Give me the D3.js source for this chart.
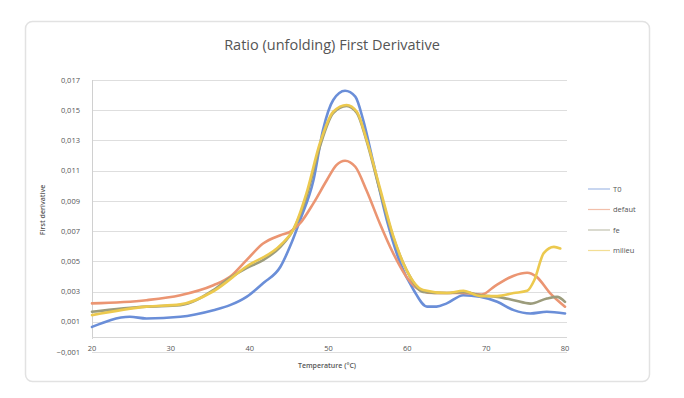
<!DOCTYPE html>
<html>
<head>
<meta charset="utf-8">
<script src="https://cdn.jsdelivr.net/npm/d3@7/dist/d3.min.js"></script>
<style>
  body { margin: 0; background: #fff; }
  svg { display: block; font-family: "Open Sans", "Noto Sans", sans-serif; }
</style>
</head>
<body>
<div id="chart"></div>
<script>
let w = 684;
let h = 398;

// data: temperature (°C) and first derivative
let seriesNames = ["T0", "defaut", "fe", "milieu"];
let seriesColors = ["#6a8ed8", "#eb9572", "#9c9c7c", "#ecc94e"];

let tempT0 = [20, 24.8, 26.9, 31.2, 35.4, 37.5, 39.6, 41.7, 43.9, 45.1, 46.4, 48.1, 49.3, 50.6, 52.1, 53.4, 54.4, 55.7, 57.4, 59.1, 60.8, 62.5, 63.7, 65, 67.1, 69.2, 71.4, 73.5, 75.6, 77.7, 80];
let valT0 = [0.00066, 0.00133, 0.00122, 0.00133, 0.00177, 0.0021, 0.00265, 0.00355, 0.00464, 0.00596, 0.00773, 0.01038, 0.01369, 0.01568, 0.01629, 0.0159, 0.01435, 0.0115, 0.00773, 0.00488, 0.0031, 0.0020, 0.0020, 0.00222, 0.00276, 0.00265, 0.00232, 0.00177, 0.00155, 0.00166, 0.00155];

let tempDefaut = [20, 26.9, 31.2, 35.4, 37.5, 39.6, 41.7, 43.9, 45.1, 46.4, 48.1, 49.8, 51.0, 52.1, 53.4, 54.8, 56.5, 58.2, 59.9, 61.6, 63.3, 67.1, 69.4, 71.2, 73.5, 75.2, 76.4, 78.1, 80];
let valDefaut = [0.00222, 0.00243, 0.00276, 0.00342, 0.00397, 0.00508, 0.00618, 0.00673, 0.00695, 0.00752, 0.00885, 0.01038, 0.01137, 0.01166, 0.01126, 0.00972, 0.00752, 0.00554, 0.00397, 0.0031, 0.0029, 0.0029, 0.0028, 0.0034, 0.00405, 0.00424, 0.00397, 0.0029, 0.0020];

let tempFe = [20, 26.9, 31.2, 35.4, 37.5, 39.6, 41.7, 43.9, 45.5, 47.2, 48.9, 50.6, 52.3, 53.6, 54.8, 56.5, 58.2, 59.9, 62.0, 65.0, 67.1, 69.2, 71.4, 73.5, 75.6, 77.7, 79.0, 80];
let valFe = [0.00166, 0.0020, 0.0021, 0.0031, 0.0039, 0.00455, 0.00508, 0.00596, 0.00707, 0.00927, 0.01258, 0.01481, 0.01528, 0.01481, 0.01303, 0.00972, 0.00662, 0.00442, 0.00298, 0.0029, 0.00298, 0.00276, 0.00265, 0.00243, 0.0022, 0.00254, 0.00265, 0.00232];

let tempMilieu = [20, 26.9, 31.2, 35.4, 39.6, 43.9, 45.5, 47.2, 48.9, 50.6, 52.3, 53.6, 54.8, 56.5, 58.2, 59.9, 62.0, 65.0, 67.1, 69.2, 71.4, 73.5, 75.2, 76.1, 77.3, 78.6, 79.4];
let valMilieu = [0.00144, 0.0020, 0.00215, 0.00302, 0.00466, 0.00607, 0.00707, 0.0095, 0.0128, 0.0149, 0.01535, 0.0149, 0.0131, 0.0099, 0.0067, 0.00442, 0.0031, 0.0029, 0.00305, 0.0027, 0.0027, 0.0029, 0.00305, 0.00375, 0.00554, 0.00596, 0.00585];

let xTicks = [20, 30, 40, 50, 60, 70, 80];
let yTicks = [-0.001, 0.001, 0.003, 0.005, 0.007, 0.009, 0.011, 0.013, 0.015, 0.017];

let series = [
  { name: seriesNames[0], color: seriesColors[0], temps: tempT0, vals: valT0 },
  { name: seriesNames[1], color: seriesColors[1], temps: tempDefaut, vals: valDefaut },
  { name: seriesNames[2], color: seriesColors[2], temps: tempFe, vals: valFe },
  { name: seriesNames[3], color: seriesColors[3], temps: tempMilieu, vals: valMilieu }
];

let svg = d3.select("#chart")
  .append("svg")
  .attr("width", w)
  .attr("height", h);

// card
svg.append("rect")
  .attr("x", 25.5)
  .attr("y", 21.5)
  .attr("width", 624)
  .attr("height", 360)
  .attr("rx", 7)
  .attr("fill", "#fff")
  .attr("stroke", "#e2e2e2")
  .attr("stroke-width", 1.5);

let x = d3.scaleLinear().domain([20, 80]).range([92, 565]);
let y = d3.scaleLinear().domain([-0.001, 0.017]).range([352, 80]);

const fmt = d => d3.format(".3f")(d).replace(".", ",");

// gridlines
svg.append("g")
  .selectAll("line")
  .data(yTicks)
  .join("line")
  .attr("x1", x(20))
  .attr("x2", x(80) + 2)
  .attr("y1", d => Math.round(y(d)) + 0.5)
  .attr("y2", d => Math.round(y(d)) + 0.5)
  .attr("stroke", "#dedede")
  .attr("stroke-width", 1);

// y labels
svg.append("g")
  .attr("text-anchor", "end")
  .selectAll("text")
  .data(yTicks)
  .join("text")
  .attr("x", 80)
  .attr("y", d => y(d))
  .attr("dy", "0.35em")
  .attr("font-size", 7.5)
  .attr("fill", "#555")
  .text(fmt);

// axis lines: vertical at 20, horizontal crossing at 0
svg.append("line")
  .attr("x1", x(20) + 0.5).attr("x2", x(20) + 0.5)
  .attr("y1", y(0.017)).attr("y2", y(0) + 2)
  .attr("stroke", "#d0d0d0");
svg.append("line")
  .attr("x1", x(20)).attr("x2", x(80) + 2)
  .attr("y1", Math.round(y(0)) + 0.5).attr("y2", Math.round(y(0)) + 0.5)
  .attr("stroke", "#d6d6d6");

// x labels
svg.append("g")
  .attr("text-anchor", "middle")
  .selectAll("text")
  .data(xTicks)
  .join("text")
  .attr("x", d => x(d))
  .attr("y", 351)
  .attr("font-size", 7.5)
  .attr("fill", "#555")
  .text(d => d);

// lines
let line = d3.line()
  .x(d => x(d[0]))
  .y(d => y(d[1]))
  .curve(d3.curveMonotoneX);

svg.append("g")
  .selectAll("path")
  .data(series)
  .join("path")
  .attr("d", s => line(d3.zip(s.temps, s.vals)))
  .attr("fill", "none")
  .attr("stroke", s => s.color)
  .attr("stroke-width", 2.6)
  .attr("stroke-linejoin", "round")
  .attr("stroke-linecap", "round");

// title
svg.append("text")
  .attr("x", 332)
  .attr("y", 50)
  .attr("text-anchor", "middle")
  .attr("font-size", 14.5)
  .attr("fill", "#555")
  .text("Ratio (unfolding) First Derivative");

// axis titles
svg.append("text")
  .attr("transform", "translate(45, 210) rotate(-90)")
  .attr("text-anchor", "middle")
  .attr("font-size", 7)
  .attr("font-weight", 600)
  .attr("fill", "#555")
  .text("First derivative");

svg.append("text")
  .attr("x", 327)
  .attr("y", 368)
  .attr("text-anchor", "middle")
  .attr("font-size", 7)
  .attr("font-weight", 600)
  .attr("fill", "#555")
  .text("Temperature (°C)");

// legend
let legend = svg.append("g")
  .selectAll("g")
  .data(series)
  .join("g")
  .attr("transform", (d, i) => `translate(588, ${189 + i * 20.5})`);

legend.append("line")
  .attr("x1", 0).attr("x2", 22)
  .attr("stroke", d => d.color)
  .attr("stroke-width", 1.2)
  .attr("opacity", 0.6);

legend.append("text")
  .attr("x", 25)
  .attr("dy", "0.35em")
  .attr("font-size", 7.5)
  .attr("fill", "#555")
  .text(d => d.name);
</script>
</body>
</html>
